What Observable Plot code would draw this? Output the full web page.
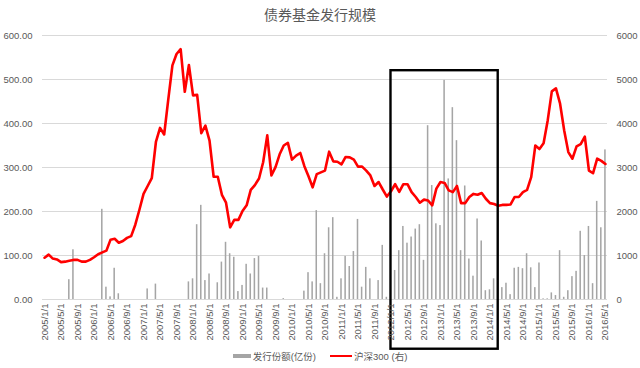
<!DOCTYPE html>
<html>
<head>
<meta charset="utf-8">
<script src="https://cdn.jsdelivr.net/npm/d3@7"></script>
<script src="https://cdn.jsdelivr.net/npm/@observablehq/plot@0.6"></script>
<style>
  html, body { margin: 0; padding: 0; background: #fff; }
  body { width: 640px; height: 368px; overflow: hidden; font-family: "Liberation Sans", "Noto Sans CJK SC", sans-serif; }
  #title { height: 28px; line-height: 28px; text-align: center; font-size: 14px; color: #595959; font-family: "Noto Sans CJK SC", sans-serif; }
  #chart svg { overflow: visible; display: block; }
  #legend { height: 16px; display: flex; justify-content: center; align-items: center; font-size: 9.5px; color: #595959; font-family: "Liberation Sans", "Noto Sans CJK SC", sans-serif; }
  .sw { display: inline-block; margin-right: 2px; }
</style>
</head>
<body>
<div id="title">债券基金发行规模</div>
<div id="chart"></div>
<div id="legend">
  <span class="sw" style="width:18px;height:4px;background:#a5a5a5;"></span><span>发行份额(亿份)</span>
  <span class="sw" style="width:22px;height:2.5px;background:#ff0000;margin-left:14px;"></span><span>沪深300 (右)</span>
</div>
<script>
// Categories: monthly, 2005/1 .. 2016/5
const months = d3.utcMonth.range(new Date(Date.UTC(2005, 0, 1)), new Date(Date.UTC(2016, 5, 1)))
  .map(d => `${d.getUTCFullYear()}/${d.getUTCMonth() + 1}/1`);

// 发行份额 (亿份), left axis
const issuance = [
  0, 0, 0, 0, 0, 0, 45, 113, 0, 0, 0, 0,
  0, 0, 205, 28, 6, 71, 13, 0, 0, 0, 0, 0,
  0, 24, 0, 35, 0, 0, 0, 0, 0, 0, 0, 40,
  47, 170, 214, 43, 58, 0, 38, 85, 130, 104, 96, 18,
  32, 80, 58, 93, 98, 26, 26, 0, 0, 0, 2, 0,
  0, 0, 0, 19, 61, 40, 202, 36, 104, 163, 186, 5,
  47, 98, 75, 109, 182, 28, 73, 47, 0, 43, 123, 5,
  0, 66, 111, 166, 128, 142, 160, 170, 89, 395, 259, 172,
  168, 498, 274, 436, 361, 111, 258, 92, 53, 183, 133, 20,
  22, 47, 0, 27, 37, 11, 71, 73, 70, 104, 72, 27,
  83, 1.5, 1.5, 15, 9, 111, 5, 20, 52, 64, 155, 100,
  166, 36, 223, 163, 340
];

// 沪深300, right axis
const csi300 = [
  950, 1020, 930, 910, 850, 860, 880, 900, 900, 860, 860, 900,
  960, 1030, 1070, 1110, 1360, 1380, 1290, 1330, 1400, 1440, 1700, 2040,
  2400, 2580, 2760, 3580, 3900, 3750, 4550, 5320, 5580, 5690, 4720, 5330,
  4640, 4650, 3780, 3950, 3610, 2790, 2790, 2380, 2200, 1640, 1810, 1810,
  2010, 2140, 2490, 2600, 2750, 3120, 3730, 2820, 3010, 3300, 3500, 3560,
  3180, 3270, 3330, 3030, 2800, 2550, 2850, 2890, 2930, 3360, 3140, 3130,
  3070, 3240, 3230, 3180, 3020, 3020, 2930, 2820, 2580, 2670, 2500, 2340,
  2460, 2620, 2445, 2620, 2620, 2440, 2330, 2200, 2270, 2250, 2140, 2520,
  2670, 2650, 2480, 2440, 2580, 2190, 2190, 2330, 2400, 2380, 2420, 2290,
  2190, 2170, 2130, 2150, 2150, 2160, 2330, 2330, 2440, 2490, 2780, 3500,
  3420, 3550, 4070, 4730, 4800, 4450, 3840, 3350, 3200, 3480, 3530, 3700,
  2930, 2870, 3200, 3150, 3080
];

const leftTicks = [0, 100, 200, 300, 400, 500, 600];
const rightTicks = [0, 1000, 2000, 3000, 4000, 5000, 6000];
const xTickLabels = months.filter((m, i) => i % 4 === 0);

// highlighted period (annotation box)
const highlight = [{from: "2012/1/1", to: "2014/3/1", top: 520, bottom: -113}];

const rows = months.map((m, i) => ({i, month: m, issue: issuance[i], csi: csi300[i]}));
const idx = m => months.indexOf(m);

const plot = Plot.plot({
  width: 640,
  height: 320,
  marginTop: 7,
  marginBottom: 49,
  marginLeft: 42,
  marginRight: 33,
  style: {fontFamily: "'Liberation Sans', 'Noto Sans CJK SC', sans-serif", fontSize: "9.5px", color: "#595959", background: "white", overflow: "visible"},
  x: {type: "linear", domain: [-0.5, months.length - 0.5]},
  y: {domain: [0, 600]},
  marks: [
    Plot.ruleY(leftTicks, {stroke: "#d9d9d9", strokeWidth: 1}),
    Plot.rectY(rows, {x1: d => d.i - 0.5, x2: d => d.i + 0.5, y: "issue", fill: "#a5a5a5", insetLeft: 1.3, insetRight: 1.3}),
    Plot.line(rows, {x: "i", y: d => d.csi / 10, stroke: "#ff0000", strokeWidth: 2.6, strokeLinejoin: "round"}),
    Plot.rect(highlight, {x1: d => idx(d.from), x2: d => idx(d.to), y1: "bottom", y2: "top", fill: "none", stroke: "#000", strokeWidth: 2.4}),
    Plot.axisY(leftTicks, {anchor: "left", tickSize: 0, tickPadding: 10, tickFormat: d => d.toFixed(2), label: null, fill: "#595959"}),
    Plot.axisY(leftTicks, {anchor: "right", tickSize: 0, tickPadding: 9, tickFormat: d => String(rightTicks[leftTicks.indexOf(d)]), label: null, fill: "#595959"}),
    Plot.axisX(xTickLabels.map(idx), {anchor: "bottom", tickSize: 0, tickPadding: 4, tickRotate: -90, tickFormat: i => months[i], label: null, fill: "#595959"})
  ]
});
document.getElementById("chart").appendChild(plot);
</script>
</body>
</html>
